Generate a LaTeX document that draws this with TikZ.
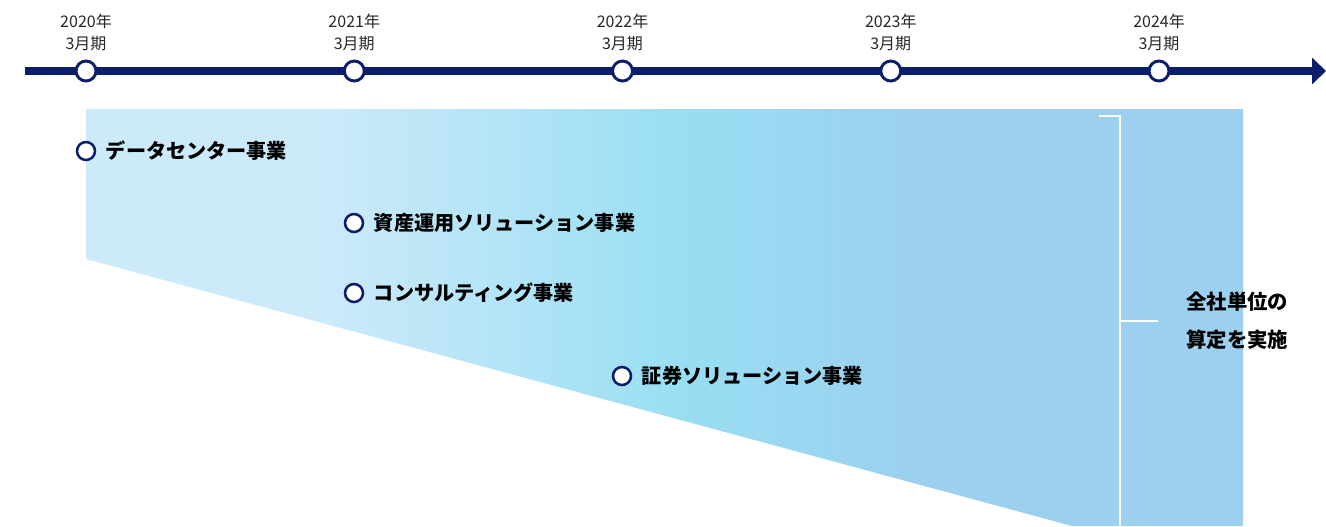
\documentclass[tikz,border=0pt]{standalone}
\usepackage{fontspec}
\setmainfont{Noto Sans CJK JP}
\usetikzlibrary{arrows.meta, positioning}
\definecolor{navy}{HTML}{0B1E6B}
\definecolor{paleblue}{RGB}{205,234,250}
\definecolor{cyanblue}{RGB}{152,222,243}
\definecolor{skyblue}{RGB}{156,208,238}
\pgfdeclarehorizontalshading{bandshade}{100bp}{color(0bp)=(paleblue); color(35bp)=(paleblue); color(51bp)=(cyanblue); color(61bp)=(skyblue); color(100bp)=(skyblue)}

\begin{document}
\begin{tikzpicture}[x=0.75pt, y=-0.75pt,
    timeline/.style={line width=6pt, navy, -{Triangle[length=10.5pt, width=19.5pt]}},
    milestone/.style={circle, draw=navy, fill=white, line width=2.2pt, minimum size=15pt, inner sep=0},
    dot/.style={circle, draw=navy, fill=white, line width=1.9pt, minimum size=13.5pt, inner sep=0},
    year/.style={align=center, inner sep=0, font=\fontsize{12}{16.5}\selectfont, text=black!85},
    item/.style={inner sep=0, font=\fontsize{15.1}{18}\selectfont\bfseries},
    summary/.style={inner sep=0, align=left, font=\fontsize{15.3}{28.5}\selectfont\bfseries},
    bracket/.style={white, line width=2.2pt}]
    \useasboundingbox (0,0) rectangle (1326,526);

    \shade[shading=bandshade]
        (86,109) -- (1243,109) -- (1243,526) -- (1072,526) -- (86,259) -- cycle;

    \draw[bracket] (1099,116) -- (1120,116) -- (1120,526);
    \draw[bracket] (1120,321) -- (1158,321);

    \coordinate (tstart) at (25,71);
    \coordinate (tend) at (1326,71);
    \draw[timeline] (tstart) -- (tend);

    \foreach \yr [count=\i from 0] in {2020,2021,2022,2023,2024} {
        \node[milestone] (m\yr) at ({86+268.25*\i},71) {};
        \node[year, above=6.5pt of m\yr] (y\yr) {\yr 年\\3月期};
    }

    \node[dot] (dot1) at (86,151) {};
    \node[item, right=7pt of dot1] (datacenter) {データセンター事業};
    \node[dot] (dot2) at (354,223) {};
    \node[item, right=7pt of dot2] (asset) {資産運用ソリューション事業};
    \node[dot] (dot3) at (354,293) {};
    \node[item, right=7pt of dot3] (consult) {コンサルティング事業};
    \node[dot] (dot4) at (622,376) {};
    \node[item, right=7pt of dot4] (securities) {証券ソリューション事業};

    \node[summary, anchor=west] (total) at (1186,321) {全社単位の\\算定を実施};
\end{tikzpicture}
\end{document}
